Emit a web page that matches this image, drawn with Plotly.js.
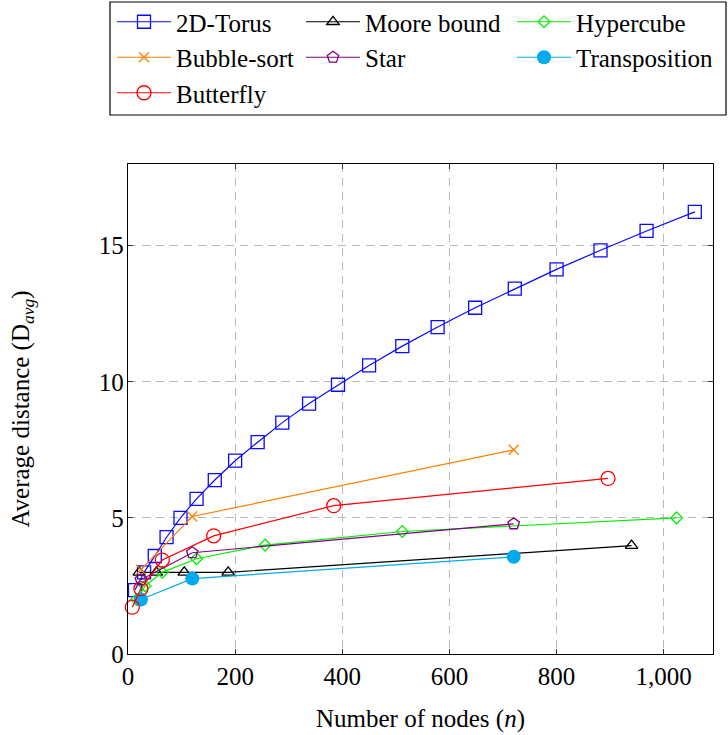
<!DOCTYPE html>
<html>
<head>
<meta charset="utf-8">
<script src="https://cdn.plot.ly/plotly-3.0.1.min.js"></script>
<style>html,body{margin:0;padding:0;background:#fff;}#chart{width:728px;height:735px;}</style>
</head>
<body>
<div id="chart"></div>
<script>
// ---- data ----
const torusN = [13, 30, 50, 72, 98, 128, 162, 200, 242, 288, 338, 392, 450, 512, 578, 648, 722, 800, 882, 968, 1058];
const torusD = [2.35, 3.0, 3.6, 4.29, 5.0, 5.7, 6.39, 7.1, 7.78, 8.5, 9.2, 9.89, 10.6, 11.31, 12.01, 12.72, 13.42, 14.13, 14.83, 15.54, 16.24];
const mooreN = [21, 53, 105, 187, 940];
const mooreD = [3.0, 3.0, 3.0, 3.0, 3.98];
const hyperN = [16, 32, 64, 128, 256, 512, 1024];
const hyperD = [2.0, 2.5, 3.0, 3.5, 4.0, 4.5, 5.0];
const bubbleN = [24, 120, 720];
const bubbleD = [3.1, 5.05, 7.5];
const starN = [24, 120, 720];
const starD = [2.73, 3.72, 4.78];
const transN = [24, 120, 720];
const transD = [2.0, 2.77, 3.57];
const buttN = [8, 24, 64, 160, 384, 896];
const buttD = [1.72, 2.4, 3.45, 4.34, 5.45, 6.45];
const xTicks = [0, 200, 400, 600, 800, 1000];
const yTicks = [0, 5, 10, 15];

const FONT = "Liberation Serif, Times New Roman, serif";

function tr(name, x, y, color, symbol, size, legend, filled) {
  return {
    type: 'scatter', mode: 'lines+markers', name: name, x: x, y: y,
    legend: legend,
    line: {color: color, width: 1.2},
    marker: {symbol: symbol, size: size, color: color,
             line: {color: color, width: filled ? 0 : 1.3}},
    cliponaxis: false
  };
}

const traces = [
  tr('2D-Torus', torusN, torusD, '#0a0aff', 'square-open', 13, 'legend', false),
  tr('Moore bound', mooreN, mooreD, '#000000', 'triangle-up-open', 11, 'legend2', false),
  tr('Hypercube', hyperN, hyperD, '#00ee00', 'diamond-open', 9, 'legend3', false),
  tr('Bubble-sort', bubbleN, bubbleD, '#ff8000', 'x-thin-open', 10, 'legend', false),
  tr('Star', starN, starD, '#800080', 'pentagon-open', 12, 'legend2', false),
  tr('Transposition', transN, transD, '#00aaee', 'circle', 14, 'legend3', true),
  tr('Butterfly', buttN, buttD, '#ff0000', 'circle-open', 14, 'legend', false)
];

const L = 128, R = 15, T = 164, B = 81;
const W = 728 - L - R, H = 735 - T - B;
const px = v => (v - L) / W;
const py = v => (735 - B - v) / H;

const legBase = {
  orientation: 'v', bgcolor: 'rgba(0,0,0,0)', borderwidth: 0,
  font: {family: FONT, size: 25, color: '#000'},
  xanchor: 'left', yanchor: 'top', itemwidth: 54, tracegroupgap: 0,
  itemclick: false, itemdoubleclick: false
};

const layout = {
  width: 728, height: 735,
  margin: {l: L, r: R, t: T, b: B, pad: 0, autoexpand: false},
  paper_bgcolor: '#fff', plot_bgcolor: '#fff',
  font: {family: FONT, size: 25, color: '#000'},
  showlegend: true,
  legend: Object.assign({}, legBase, {x: px(112), y: py(-1)}),
  legend2: Object.assign({}, legBase, {x: px(301), y: py(-1)}),
  legend3: Object.assign({}, legBase, {x: px(512), y: py(-1)}),
  xaxis: {
    range: [0, 1092], tickvals: xTicks, ticktext: xTicks.map(v => v.toLocaleString('en-US')),
    showgrid: true, gridcolor: '#b8b8b8', griddash: '8px,6px', gridwidth: 1,
    zeroline: false, showline: true, linecolor: '#000', linewidth: 1.2, mirror: 'ticks',
    ticks: 'inside', ticklen: 5, tickcolor: '#333', tickwidth: 1,
    tickfont: {family: FONT, size: 25}, automargin: false,
    title: {text: 'Number of nodes (<i>n</i>)', font: {family: FONT, size: 25}, standoff: 20}
  },
  yaxis: {
    range: [0, 18], tickvals: yTicks,
    showgrid: true, gridcolor: '#b8b8b8', griddash: '8px,6px', gridwidth: 1,
    zeroline: false, showline: true, linecolor: '#000', linewidth: 1.2, mirror: 'ticks',
    ticks: 'inside', ticklen: 5, tickcolor: '#333', tickwidth: 1,
    tickfont: {family: FONT, size: 25}, ticklabelstandoff: -2, automargin: false,
    title: {text: 'Average distance (D<sub><i>avg</i></sub>)', font: {family: FONT, size: 25}, standoff: 62}
  },
  shapes: [{
    type: 'rect', xref: 'paper', yref: 'paper',
    x0: px(110), x1: px(726), y0: py(115), y1: py(2),
    line: {color: '#000', width: 1.2}, fillcolor: 'rgba(0,0,0,0)'
  }]
};

Plotly.newPlot('chart', traces, layout, {displayModeBar: false, staticPlot: true});
</script>
</body>
</html>
